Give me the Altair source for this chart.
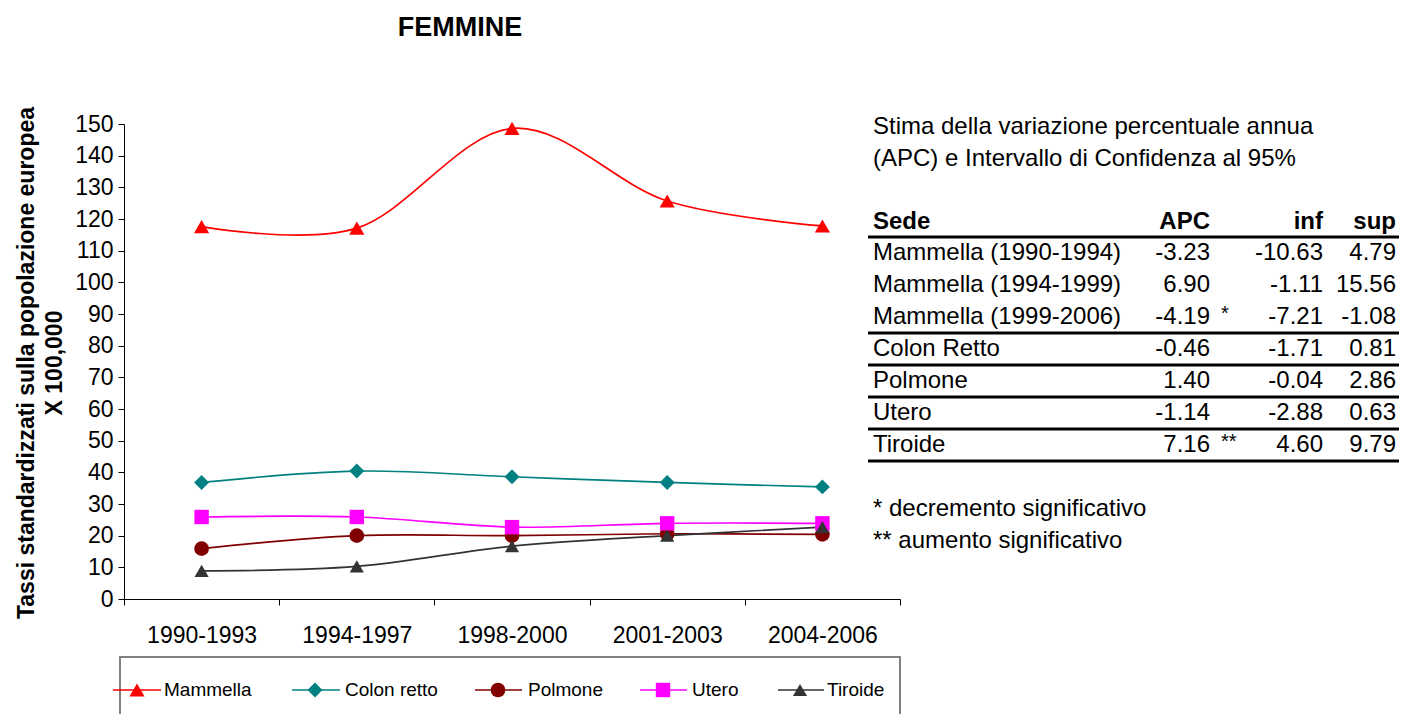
import altair as alt
import pandas as pd

FONT = "Liberation Sans"

# ---------------- data ----------------
periodi = ["1990-1993", "1994-1997", "1998-2000", "2001-2003", "2004-2006"]
mammella = [117.6, 117.1, 148.6, 125.7, 117.8]
colon_retto = [36.8, 40.4, 38.6, 36.8, 35.4]
polmone = [15.9, 20.0, 20.0, 20.6, 20.4]
utero = [25.9, 25.9, 22.7, 23.9, 23.9]
tiroide = [8.9, 10.3, 16.7, 20.0, 22.7]

serie = ["Mammella", "Colon retto", "Polmone", "Utero", "Tiroide"]
colori = ["#FF0000", "#008080", "#800000", "#FF00FF", "#333333"]
forme = ["triangle-up", "diamond", "circle", "square", "triangle-up"]
dimensioni = [230, 200, 160, 165, 115]

tab_sede = ["Mammella (1990-1994)", "Mammella (1994-1999)", "Mammella (1999-2006)",
            "Colon Retto", "Polmone", "Utero", "Tiroide"]
tab_apc = ["-3.23", "6.90", "-4.19", "-0.46", "1.40", "-1.14", "7.16"]
tab_sig = ["", "", "*", "", "", "", "**"]
tab_inf = ["-10.63", "-1.11", "-7.21", "-1.71", "-0.04", "-2.88", "4.60"]
tab_sup = ["4.79", "15.56", "-1.08", "0.81", "2.86", "0.63", "9.79"]

titolo = "FEMMINE"
y_titolo = ["Tassi standardizzati sulla popolazione europea", "X 100,000"]
tab_titolo = ["Stima della variazione percentuale annua",
              "(APC) e Intervallo di Confidenza al 95%"]
tab_header = ["Sede", "APC", "inf", "sup"]
note = ["* decremento significativo", "** aumento significativo"]

# ---------------- layout (pixels, relative to plot origin) ----------------
W, H = 776, 475
ROW0, ROWSTEP = 129, 32

valori = [mammella, colon_retto, polmone, utero, tiroide]
df = pd.DataFrame([
    {"periodo": p, "serie": s, "valore": v}
    for s, vals in zip(serie, valori) for p, v in zip(periodi, vals)
])

color = alt.Color("serie:N", scale=alt.Scale(domain=serie, range=colori), legend=None)
shape = alt.Shape("serie:N", scale=alt.Scale(domain=serie, range=forme), legend=None)
size = alt.Size("serie:N", scale=alt.Scale(domain=serie, range=dimensioni), legend=None)

x_enc = alt.X(
    "periodo:N", sort=periodi,
    scale=alt.Scale(type="band", domain=periodi, paddingInner=0, paddingOuter=0),
    axis=alt.Axis(title=None, tickBand="extent", tickSize=6, labelFontSize=23,
                  labelFont=FONT, labelPadding=19, labelAngle=0, labelColor="black",
                  domainColor="black", tickColor="black", grid=False),
)
y_enc = alt.Y(
    "valore:Q",
    scale=alt.Scale(domain=[0, 150], nice=False),
    axis=alt.Axis(title=None, values=list(range(0, 151, 10)), tickSize=6,
                  labelFontSize=23, labelFont=FONT, labelPadding=5, labelColor="black",
                  labelOverlap=False, domainColor="black", tickColor="black", grid=False),
)

base = alt.Chart(df)
lines = base.mark_line(interpolate="cardinal", strokeWidth=1.7).encode(
    x=x_enc, y=y_enc, color=color, detail="serie:N")
points = base.mark_point(filled=True, opacity=1).encode(
    x=x_enc, y=y_enc, color=color, shape=shape, size=size)


def text_layer(d, fontsize, bold=False, align="left", angle=0):
    return alt.Chart(pd.DataFrame(d)).mark_text(
        font=FONT, fontSize=fontsize, fontWeight="bold" if bold else "normal",
        align=align, baseline="middle", color="black", angle=angle,
    ).encode(
        x=alt.X("px:Q", scale=None, axis=None),
        y=alt.Y("py:Q", scale=None, axis=None),
        text="t:N",
    )


layers = [lines, points]

# title
layers.append(text_layer({"px": [336], "py": [-96], "t": [titolo]}, 27, bold=True, align="center"))
# y title (two rotated lines)
layers.append(text_layer({"px": [-97, -69], "py": [239, 239], "t": y_titolo}, 23,
                         bold=True, align="center", angle=270))

# table title
layers.append(text_layer({"px": [749, 749], "py": [3, 35], "t": tab_titolo}, 24))
# header
layers.append(text_layer({"px": [749], "py": [98], "t": [tab_header[0]]}, 24, bold=True))
layers.append(text_layer({"px": [1086, 1199, 1272], "py": [98, 98, 98], "t": tab_header[1:]},
                         24, bold=True, align="right"))
rows_y = [ROW0 + ROWSTEP * i for i in range(len(tab_sede))]
layers.append(text_layer({"px": [749] * 7, "py": rows_y, "t": tab_sede}, 24))
layers.append(text_layer({"px": [1086] * 7, "py": rows_y, "t": tab_apc}, 24, align="right"))
layers.append(text_layer({"px": [1097] * 7, "py": [y - 3 for y in rows_y], "t": tab_sig}, 20))
layers.append(text_layer({"px": [1199] * 7, "py": rows_y, "t": tab_inf}, 24, align="right"))
layers.append(text_layer({"px": [1272] * 7, "py": rows_y, "t": tab_sup}, 24, align="right"))
# table rules
rule_df = pd.DataFrame({"ry": [113, 209, 241, 273, 305, 337], "x0": [744] * 6, "x1": [1280] * 6})
layers.append(alt.Chart(rule_df).mark_rule(color="black", strokeWidth=3).encode(
    x=alt.X("x0:Q", scale=None, axis=None), x2="x1:Q",
    y=alt.Y("ry:Q", scale=None, axis=None)))
# notes
layers.append(text_layer({"px": [749, 749], "py": [385, 417], "t": note}, 24))

# legend box
layers.append(alt.Chart(pd.DataFrame({"a": [0]})).mark_rect(
    fill="white", fillOpacity=0, stroke="#808080", strokeWidth=2).encode(
    x=alt.value(-4), x2=alt.value(776), y=alt.value(533), y2=alt.value(640)))
leg = pd.DataFrame({
    "serie": serie,
    "lx0": [-11, 168, 351, 516, 654],
    "lx1": [37, 216, 398, 563, 700],
    "mx": [13, 191, 374, 539, 676],
    "tx": [40, 221, 404, 568, 703],
    "ly": [566] * 5,
})
lb = alt.Chart(leg)
layers.append(lb.mark_rule(strokeWidth=1.7).encode(
    x=alt.X("lx0:Q", scale=None, axis=None), x2="lx1:Q",
    y=alt.Y("ly:Q", scale=None, axis=None), color=color))
layers.append(lb.mark_point(filled=True, opacity=1).encode(
    x=alt.X("mx:Q", scale=None, axis=None),
    y=alt.Y("ly:Q", scale=None, axis=None), color=color, shape=shape, size=size))
layers.append(lb.mark_text(font=FONT, fontSize=19, align="left", baseline="middle",
                           color="black").encode(
    x=alt.X("tx:Q", scale=None, axis=None),
    y=alt.Y("ly:Q", scale=None, axis=None), text="serie:N"))

chart = alt.layer(*layers).properties(
    width=W, height=H,
    autosize=alt.AutoSizeParams(type="none"),
    padding={"left": 116, "top": 116, "right": 499, "bottom": 115},
).configure(background="white").configure_view(stroke=None, strokeWidth=0)

chart.save("out.html", embed_options={"renderer": "svg", "actions": False})
